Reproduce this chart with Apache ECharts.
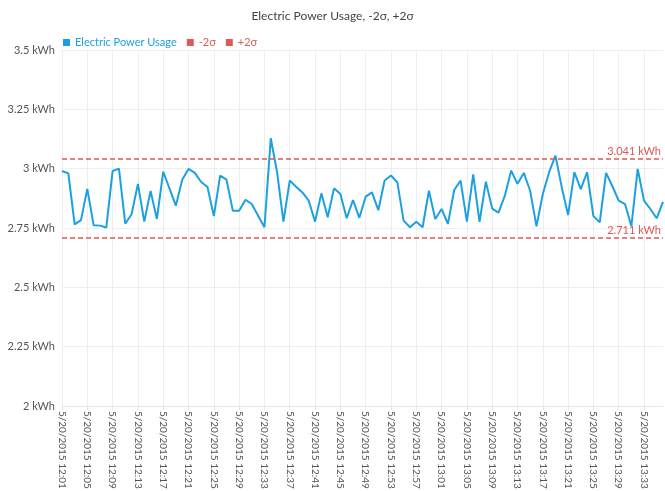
<!DOCTYPE html>
<html>
<head>
<meta charset="utf-8">
<script src="https://cdn.jsdelivr.net/npm/echarts@6/dist/echarts.min.js"></script>
<style>html,body{margin:0;padding:0;background:#fff;}#c{width:665px;height:491px;}</style>
</head>
<body>
<div id="c"></div>
<script>
const startHour = 12, startMin = 1, count = 96;
const categories = [];
for (let i = 0; i < count; i++) {
  const t = startHour * 60 + startMin + i;
  const h = Math.floor(t / 60), m = t % 60;
  categories.push('5/20/2015 ' + h + ':' + (m < 10 ? '0' + m : m));
}
const usage = [
  2.99, 2.98, 2.765, 2.783, 2.915, 2.762, 2.76, 2.752, 2.99, 3.0,
  2.768, 2.808, 2.936, 2.777, 2.906, 2.788, 2.987, 2.916, 2.844, 2.953,
  2.999, 2.982, 2.944, 2.923, 2.8, 2.971, 2.954, 2.823, 2.823, 2.869,
  2.851, 2.802, 2.753, 3.128, 2.985, 2.777, 2.95, 2.924, 2.9, 2.865,
  2.777, 2.896, 2.795, 2.917, 2.893, 2.791, 2.868, 2.793, 2.882, 2.9,
  2.825, 2.95, 2.971, 2.943, 2.781, 2.753, 2.776, 2.753, 2.907, 2.788,
  2.83, 2.767, 2.91, 2.95, 2.777, 2.976, 2.776, 2.945, 2.832, 2.815,
  2.886, 2.992, 2.936, 2.982, 2.907, 2.757, 2.893, 2.985, 3.055, 2.921,
  2.805, 2.985, 2.914, 2.985, 2.8, 2.774, 2.982, 2.926, 2.865, 2.851,
  2.757, 2.999, 2.865, 2.83, 2.791, 2.86
];
const minus2Sigma = [2.711];
const plus2Sigma = [3.041];
const yTicks = [2, 2.25, 2.5, 2.75, 3, 3.25, 3.5];

const FONT = 'Lato, "Noto Sans", sans-serif';
const RED = '#dc5a55';
const BLUE = '#1ba1e2';

const chart = echarts.init(document.getElementById('c'), null, {renderer: 'canvas'});
function sigmaLine(val) {
  return {
    symbol: 'none',
    silent: true,
    lineStyle: {color: RED, type: [5, 3], width: 1.5},
    label: {position: 'insideEndTop', formatter: val.toFixed(3) + ' kWh', color: RED, fontSize: 11, fontFamily: FONT, distance: 2},
    data: [{yAxis: val}]
  };
}
chart.setOption({
  animation: false,
  textStyle: {fontFamily: FONT},
  title: {
    text: 'Electric Power Usage, -2σ, +2σ',
    left: 'center', top: 5,
    textStyle: {fontSize: 12, fontWeight: 'normal', color: '#444', fontFamily: FONT}
  },
  legend: {
    left: 58, top: 32,
    itemWidth: 7, itemHeight: 7, itemGap: 10,
    textStyle: {fontSize: 11, fontFamily: FONT},
    data: [
      {name: 'Electric Power Usage', icon: 'rect', textStyle: {color: BLUE}},
      {name: '-2σ', icon: 'rect', textStyle: {color: RED}},
      {name: '+2σ', icon: 'rect', textStyle: {color: RED}}
    ]
  },
  grid: {left: 62, right: 2, top: 50, bottom: 85, containLabel: false, outerBoundsMode: 'none'},
  xAxis: {
    type: 'category',
    data: categories,
    boundaryGap: false,
    axisLine: {lineStyle: {color: '#e6e6e6'}},
    axisTick: {show: true, interval: 3, length: 4, lineStyle: {color: '#e6e6e6'}},
    splitLine: {show: true, interval: 3, lineStyle: {color: '#eeeeee'}},
    axisLabel: {interval: 3, rotate: -90, fontSize: 10, color: '#555', fontFamily: FONT, margin: 5, overflow: 'none', width: 200}
  },
  yAxis: {
    type: 'value',
    min: yTicks[0], max: yTicks[yTicks.length - 1], interval: 0.25,
    axisLine: {show: false},
    axisTick: {show: false},
    splitLine: {lineStyle: {color: '#eeeeee'}},
    axisLabel: {formatter: v => v + ' kWh', fontSize: 11, color: '#555', fontFamily: FONT, margin: 7}
  },
  series: [
    {
      name: 'Electric Power Usage', type: 'line', data: usage,
      symbol: 'none', color: BLUE,
      lineStyle: {width: 2, color: BLUE}
    },
    {
      name: '-2σ', type: 'line', data: [], color: RED,
      markLine: sigmaLine(minus2Sigma[0])
    },
    {
      name: '+2σ', type: 'line', data: [], color: RED,
      markLine: sigmaLine(plus2Sigma[0])
    }
  ]
});
</script>
</body>
</html>
